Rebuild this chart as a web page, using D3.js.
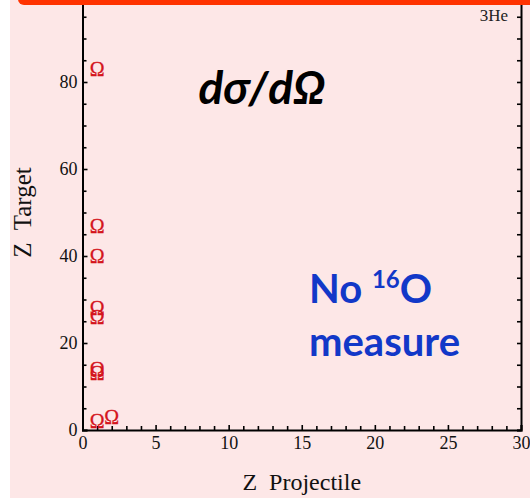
<!DOCTYPE html>
<html>
<head>
<meta charset="utf-8">
<script src="https://cdn.jsdelivr.net/npm/d3@7"></script>
<style>
  html, body { margin: 0; padding: 0; background: #ffffff; }
  svg { display: block; }
</style>
</head>
<body>
<svg id="chart" width="530" height="498"></svg>
<script>
// Measured (projectile Z, target Z) pairs for d\u03c3/d\u03a9
const projectileZ = [1, 1, 1, 1, 1, 1, 1, 1, 2];
const targetZ     = [83, 47, 40, 28, 26, 14, 13, 2, 3];

const xMajorTicks = [0, 5, 10, 15, 20, 25, 30];
const yMajorTicks = [0, 20, 40, 60, 80];
const xMinorStep = 1;
const yMinorStep = 5;

const W = 530, H = 498;
const svg = d3.select("#chart");

// slide background
svg.append("rect").attr("x", 0).attr("y", 0).attr("width", W).attr("height", H).attr("fill", "#ffffff");
svg.append("rect").attr("x", 10).attr("y", 0).attr("width", W - 10).attr("height", H).attr("fill", "#fde7e7");

const x = d3.scaleLinear().domain([0, 30]).range([82.5, 521]);
const y = d3.scaleLinear().domain([0, 100]).range([430, -5]);

const serif = "'Liberation Serif', 'DejaVu Serif', serif";

function range(a, b, s) { const r = []; for (let v = a; v <= b + 1e-9; v += s) r.push(v); return r; }
const xMinor = range(0, 30, xMinorStep).filter(v => !xMajorTicks.includes(v));
const yMinor = range(0, 100, yMinorStep).filter(v => !yMajorTicks.includes(v));

function styleAxis(g) {
  g.select(".domain").attr("stroke", "#000").attr("stroke-width", 2);
  g.selectAll(".tick line").attr("stroke", "#000").attr("stroke-width", 1.6);
  g.selectAll(".tick text").attr("font-family", serif).attr("font-size", 18).attr("fill", "#111");
}

// bottom axis: labelled majors, ticks pointing inward
const gx = svg.append("g").attr("transform", `translate(0,${y(0)})`)
  .call(d3.axisBottom(x).tickValues(xMajorTicks).tickSize(-5).tickPadding(5).tickFormat(d3.format("d")));
styleAxis(gx);
gx.selectAll(".tick text").attr("dy", "0.8em");
svg.append("g").attr("transform", `translate(0,${y(0)})`)
  .call(d3.axisBottom(x).tickValues(xMinor).tickSize(-4).tickFormat(""))
  .call(g => { g.select(".domain").remove(); g.selectAll(".tick line").attr("stroke", "#000").attr("stroke-width", 1.6); });

// left axis
const gy = svg.append("g").attr("transform", `translate(${x(0)},0)`)
  .call(d3.axisLeft(y).tickValues(yMajorTicks).tickSize(-5).tickPadding(5).tickFormat(d3.format("d")));
styleAxis(gy);
svg.append("g").attr("transform", `translate(${x(0)},0)`)
  .call(d3.axisLeft(y).tickValues(yMinor).tickSize(-4).tickFormat(""))
  .call(g => { g.select(".domain").remove(); g.selectAll(".tick line").attr("stroke", "#000").attr("stroke-width", 1.6); });

// right frame with mirrored ticks
const gr = svg.append("g").attr("transform", `translate(${x(30)},0)`)
  .call(d3.axisRight(y).tickValues(range(0, 100, yMinorStep)).tickSize(-4).tickFormat(""));
gr.select(".domain").attr("stroke", "#000").attr("stroke-width", 2);
gr.selectAll(".tick line").attr("stroke", "#000").attr("stroke-width", 1.6);

// axis titles
svg.append("text").attr("x", (x(0) + x(30)) / 2).attr("y", 490)
  .attr("text-anchor", "middle").attr("font-family", serif).attr("font-size", 24).attr("fill", "#111")
  .attr("xml:space", "preserve").text("Z  Projectile");
svg.append("text").attr("transform", `translate(31,${y(50)}) rotate(-90)`)
  .attr("text-anchor", "middle").attr("font-family", serif).attr("font-size", 25).attr("fill", "#111")
  .attr("xml:space", "preserve").text("Z  Target");

// data markers drawn as \u03a9 glyphs
svg.append("g").selectAll("text").data(projectileZ.map((p, i) => ({ p, t: targetZ[i] })))
  .join("text")
  .attr("x", d => x(d.p)).attr("y", d => y(d.t))
  .attr("text-anchor", "middle").attr("dominant-baseline", "central")
  .attr("font-family", serif).attr("font-size", 20).attr("fill", "#d4141c")
  .attr("stroke", "#d4141c").attr("stroke-width", 0.3)
  .text("\u03a9");

// ejectile label
svg.append("text").attr("x", 508).attr("y", 21).attr("text-anchor", "end")
  .attr("font-family", serif).attr("font-size", 17).attr("fill", "#222").text("3He");

// observable title
svg.append("text").attr("x", 262).attr("y", 104).attr("text-anchor", "middle")
  .attr("font-family", "Lato, 'Open Sans', sans-serif").attr("font-size", 46)
  .attr("font-weight", "bold").attr("font-style", "italic").attr("fill", "#000")
  .text("d\u03c3/d\u03a9");

// note
const note = svg.append("text").attr("font-family", "Lato, 'Open Sans', sans-serif")
  .attr("font-weight", "bold").attr("font-size", 40).attr("fill", "#1238c8");
const l1 = note.append("tspan").attr("x", 309).attr("y", 303);
l1.append("tspan").text("No ");
l1.append("tspan").attr("font-size", 24).attr("dy", -15).text("16");
l1.append("tspan").attr("dy", 15).text("O");
note.append("tspan").attr("x", 309).attr("y", 356).text("measure");

// slide header bar
svg.append("rect").attr("x", 18).attr("y", -20).attr("width", W).attr("height", 25)
  .attr("rx", 6).attr("fill", "#ff3300");
</script>
</body>
</html>
